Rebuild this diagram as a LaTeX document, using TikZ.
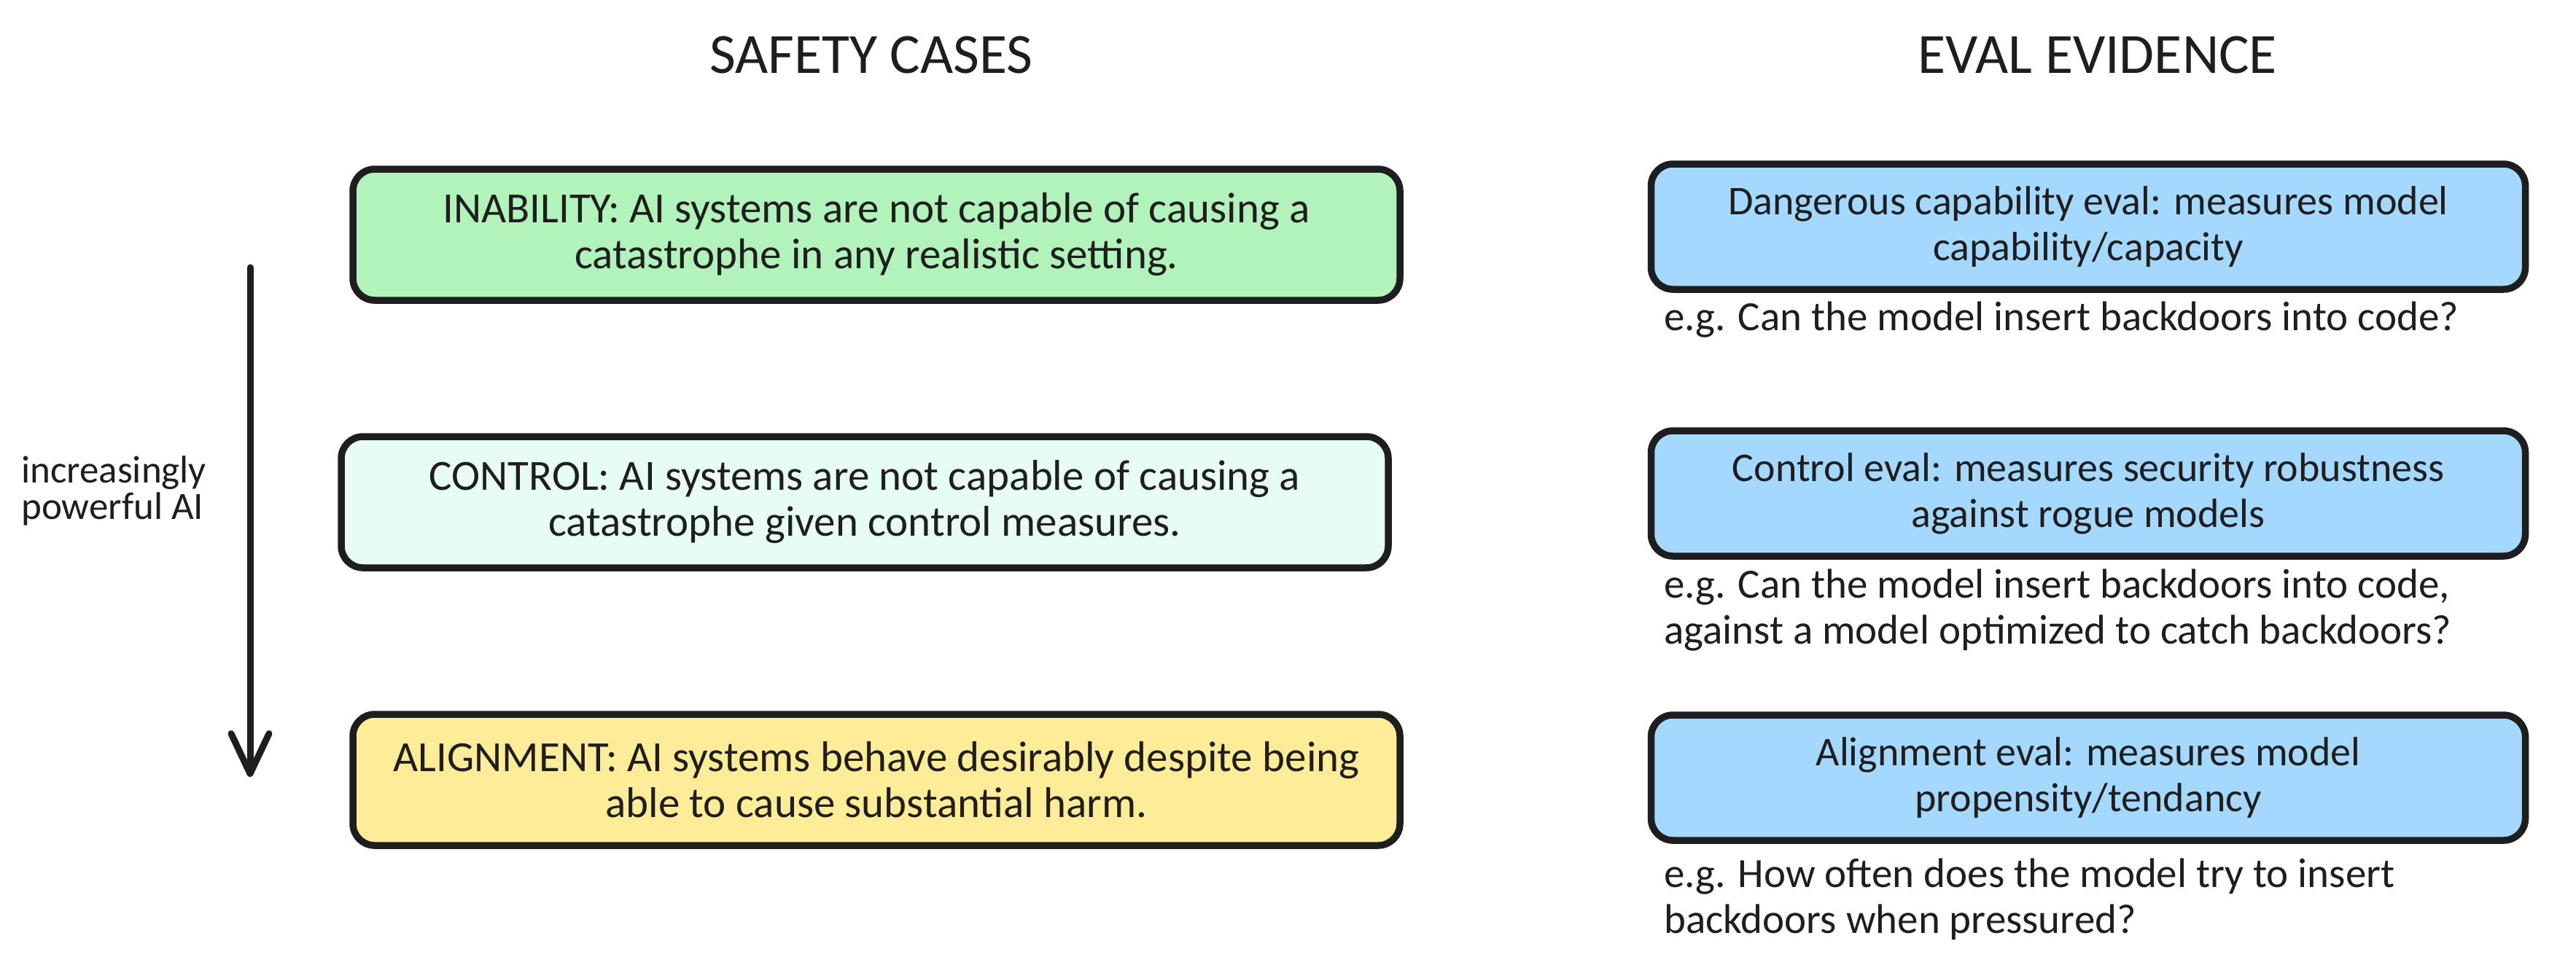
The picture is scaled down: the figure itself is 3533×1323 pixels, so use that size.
\documentclass[tikz,border=0pt]{standalone}
\usepackage{fontspec}
\setmainfont{Carlito}
\usetikzlibrary{arrows.meta}
\definecolor{ink}{HTML}{1E1E1E}
\definecolor{greenfill}{HTML}{B2F2BB}
\definecolor{mintfill}{HTML}{E6FCF5}
\definecolor{yellowfill}{HTML}{FFEC99}
\definecolor{bluefill}{HTML}{A5D8FF}
\begin{document}
\begin{tikzpicture}[x=1pt,y=-1pt,
  casebox/.style={draw=ink, line width=9.5pt, rounded corners=30pt, minimum width=1436pt, minimum height=180pt, align=center, font=\fontsize{59}{63}\selectfont, text=ink, inner sep=0pt},
  evalbox/.style={draw=ink, fill=bluefill, line width=9.5pt, rounded corners=30pt, minimum width=1199pt, minimum height=172pt, align=center, font=\fontsize{56}{63}\selectfont, text=ink, inner sep=0pt},
  egtext/.style={anchor=west, align=left, font=\fontsize{57}{63}\selectfont, text=ink, inner sep=0pt},
  coltitle/.style={font=\fontsize{78}{88}\selectfont, text=ink, inner sep=0pt},
  sidelabel/.style={anchor=west, align=left, font=\fontsize{53}{50}\selectfont, text=ink, inner sep=0pt},
  powerarrow/.style={draw=ink, line width=9pt, line cap=round, -{Straight Barb[length=55pt, width=52pt, line cap=round, line join=round]}}]
\useasboundingbox[fill=white] (0,0) rectangle (3533,1323);

\node[coltitle] (t1) at (1195,75) {SAFETY CASES};
\node[coltitle] (t2) at (2877,75) {EVAL EVIDENCE};

\node[casebox, fill=greenfill] (inab) at (1202,322) {INABILITY: AI systems are not capable of causing a\\catastrophe in any realistic setting.};
\node[casebox, fill=mintfill] (ctrl) at (1186,689) {CONTROL: AI systems are not capable of causing a\\catastrophe given control measures.};
\node[casebox, fill=yellowfill] (algn) at (1202,1070) {ALIGNMENT: AI systems behave desirably despite being\\able to cause substantial harm.};

\node[evalbox] (dce) at (2864,311) {Dangerous capability eval: measures model\\capability/capacity};
\node[evalbox] (ce) at (2864,677) {Control eval: measures security robustness\\against rogue models};
\node[evalbox] (ae) at (2864,1067) {Alignment eval: measures model\\propensity/tendancy};

\node[egtext] (eg1) at (2282,439) {e.g. Can the model insert backdoors into code?};
\node[egtext] (eg2) at (2282,837) {e.g. Can the model insert backdoors into code,\\against a model optimized to catch backdoors?};
\node[egtext] (eg3) at (2282,1234) {e.g. How often does the model try to insert\\backdoors when pressured?};

\node[sidelabel] (pw) at (29,673) {increasingly\\powerful AI};
\coordinate (atop) at (343,367);
\coordinate (abot) at (343,1066);
\draw[powerarrow] (atop) -- (abot);
\end{tikzpicture}
\end{document}
